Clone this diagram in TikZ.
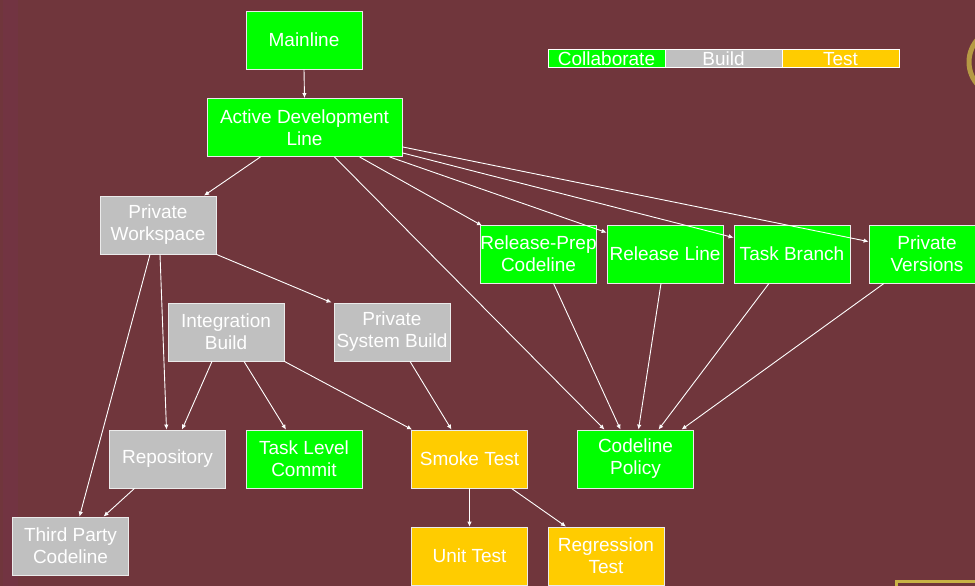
\documentclass[tikz,border=0pt]{standalone}
\usepackage{fontspec}
\setmainfont{Liberation Sans}
\usetikzlibrary{arrows.meta}
\definecolor{bgwine}{RGB}{112,54,60}
\definecolor{bgband}{RGB}{116,52,70}
\definecolor{collab}{RGB}{0,255,0}
\definecolor{buildgray}{RGB}{192,192,192}
\definecolor{testgold}{RGB}{255,204,0}
\definecolor{framegold}{RGB}{200,180,70}
\tikzset{
  box/.style={draw=white!92!black, line width=0.8pt, minimum width=116pt,
    minimum height=58pt, inner sep=0pt, text=white, align=center,
    font=\fontsize{19}{22}\selectfont},
  collabbox/.style={box, fill=collab},
  buildbox/.style={box, fill=buildgray},
  testbox/.style={box, fill=testgold},
  legendbox/.style={draw=white, line width=0.8pt, minimum width=117pt,
    minimum height=17pt, inner sep=0pt, text=white,
    text height=16.5pt, text depth=1.5pt,
    font=\fontsize{19}{22}\selectfont},
  link/.style={draw=white, line width=0.9pt,
    -{Latex[length=5pt,width=4.5pt,fill=white!85!black]}}
}
\begin{document}
\begin{tikzpicture}[x=1pt,y=-1pt]
\useasboundingbox (0,0) rectangle (975,586);
\clip (0,0) rectangle (975,586);
% backdrop
\fill[bgwine] (0,0) rectangle (975,586);
\fill[bgband, opacity=0.6] (3,0) rectangle (18,586);
\draw[framegold, line width=5pt, opacity=0.8] (1003,62) circle[radius=34];
\draw[framegold, line width=3pt] (896,590) -- (896,581) -- (980,581);

% legend
\node[legendbox, fill=collab]     (lgc) at (606.5,58.5) {Collaborate};
\node[legendbox, fill=buildgray]  (lgb) at (723.5,58.5) {Build};
\node[legendbox, fill=testgold]   (lgt) at (840.5,58.5) {Test};

% nodes
\node[collabbox] (ml)    at (304,40)    {Mainline};
\node[collabbox, minimum width=195pt] (adl) at (304.5,127.5) {Active Development\\Line};
\node[buildbox]  (pw)    at (158,225)   {Private\\Workspace};
\node[collabbox] (rpc)   at (538.5,254) {Release-Prep\\Codeline};
\node[collabbox] (rl)    at (665,254)   {Release Line};
\node[collabbox] (tb)    at (792,254)   {Task Branch};
\node[collabbox] (pv)    at (927,254)   {Private\\Versions};
\node[buildbox]  (ib)    at (226,332)   {Integration\\Build};
\node[buildbox]  (psb)   at (392,332)   {Private\\System Build};
\node[buildbox]  (repo)  at (167.5,459) {Repository};
\node[collabbox] (tlc)   at (304,459)   {Task Level\\Commit};
\node[testbox]   (smoke) at (469.5,459) {Smoke Test};
\node[collabbox] (cp)    at (635.5,459) {Codeline\\Policy};
\node[buildbox]  (tpc)   at (70.5,546)  {Third Party\\Codeline};
\node[testbox]   (unit)  at (469.5,556) {Unit Test};
\node[testbox]   (reg)   at (606,556)   {Regression\\Test};

% connectors
\draw[link] (ml.south) -- (adl.north);
\draw[link] ([xshift=-44pt]adl.south) -- ([xshift=46pt]pw.north);
\draw[link] ([xshift=30pt]adl.south) -- ([xshift=-31pt]cp.north);
\draw[link] ([xshift=55pt]adl.south) -- ([xshift=2pt,yshift=-1pt]rpc.north west);
\draw[link] ([xshift=85pt]adl.south) -- ([yshift=-8pt]rl.north west);
\draw[link] ([yshift=4pt]adl.south east) -- ([yshift=-13pt]tb.north west);
\draw[link] ([yshift=10pt]adl.south east) -- ([yshift=-17pt]pv.north west);

\draw[link] ([xshift=15pt]rpc.south) -- ([xshift=-15pt]cp.north);
\draw[link] ([xshift=-4pt]rl.south)  -- ([xshift=3pt]cp.north);
\draw[link] ([xshift=-23pt]tb.south) -- ([xshift=23pt]cp.north);
\draw[link] ([xshift=-43pt]pv.south) -- ([xshift=46pt]cp.north);

\draw[link] (pw.south east) -- ([xshift=-2pt]psb.north west);
\draw[link] ([xshift=2pt]pw.south) -- ([xshift=-1pt]repo.north);
\draw[link] ([xshift=-8pt]pw.south) -- ([xshift=9pt]tpc.north);

\draw[link] ([xshift=-14pt]ib.south) -- ([xshift=14.5pt]repo.north);
\draw[link] ([xshift=18pt]ib.south)  -- ([xshift=-18pt]tlc.north);
\draw[link] (ib.south east) -- ([xshift=1pt]smoke.north west);
\draw[link] ([xshift=18pt]psb.south) -- ([xshift=-18pt]smoke.north);

\draw[link] ([xshift=-33pt]repo.south) -- ([xshift=33pt]tpc.north);
\draw[link] (smoke.south) -- (unit.north);
\draw[link] ([xshift=42pt]smoke.south) -- ([xshift=-40pt]reg.north);
\end{tikzpicture}
\end{document}
